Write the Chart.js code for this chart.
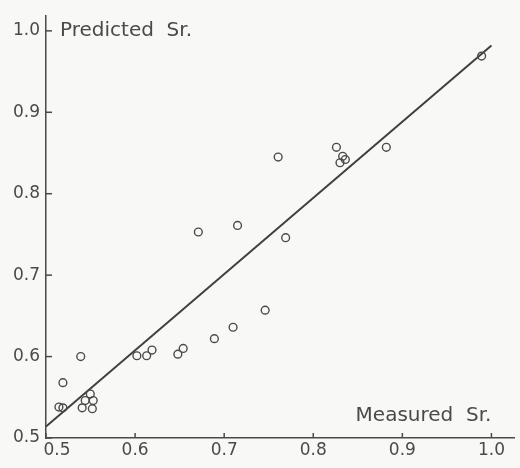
<!DOCTYPE html>
<html>
<head>
<meta charset="utf-8">
<script src="https://cdn.jsdelivr.net/npm/chart.js@4.4.0/dist/chart.umd.min.js"></script>
<style>
  html, body { margin: 0; padding: 0; background: #f8f8f6; }
  #wrap { width: 520px; height: 468px; position: relative; }
</style>
</head>
<body>
<div id="wrap"><canvas id="srChart"></canvas></div>
<script>
const measured  = [0.5145, 0.519, 0.519, 0.539, 0.5406, 0.544, 0.5497, 0.553, 0.552,
                   0.602, 0.613, 0.619, 0.648, 0.654, 0.689, 0.710, 0.746,
                   0.671, 0.715, 0.769, 0.7606, 0.826, 0.833, 0.830, 0.836, 0.882, 0.989];
const predicted = [0.538, 0.537, 0.568, 0.600, 0.537, 0.546, 0.554, 0.546, 0.536,
                   0.601, 0.601, 0.608, 0.603, 0.610, 0.622, 0.636, 0.657,
                   0.753, 0.761, 0.746, 0.845, 0.857, 0.846, 0.838, 0.842, 0.857, 0.969];

// Recta de regresión (extremos)
const fitX = [0.5, 1.0];
const fitY = [0.514, 0.982];

const tickValues = [0.5, 0.6, 0.7, 0.8, 0.9, 1.0];
const tickLabels = ['0.5', '0.6', '0.7', '0.8', '0.9', '1.0'];
const yLabel = 'Predicted  Sr.';
const xLabel = 'Measured  Sr.';

const ink = '#4a4a4a';
const fontFamily = '"DejaVu Sans", sans-serif';

// Marcas de eje hacia dentro, rótulos del eje x y títulos
const annotations = {
    id: 'annotations',
    afterDraw(chart) {
        const { ctx, chartArea, scales } = chart;
        const x = scales.x, y = scales.y;
        ctx.save();
        ctx.strokeStyle = ink;
        ctx.lineWidth = 1.5;
        tickValues.forEach(v => {
            const px = x.getPixelForValue(v);
            ctx.beginPath();
            ctx.moveTo(px, chartArea.bottom);
            ctx.lineTo(px, chartArea.bottom - 5);
            ctx.stroke();
            const py = y.getPixelForValue(v);
            ctx.beginPath();
            ctx.moveTo(chartArea.left, py);
            ctx.lineTo(chartArea.left + 6, py);
            ctx.stroke();
        });
        ctx.fillStyle = ink;
        ctx.font = '17px ' + fontFamily;
        ctx.textAlign = 'center';
        ctx.textBaseline = 'middle';
        tickValues.forEach((v, i) => {
            // el primer rótulo va desplazado para no chocar con el 0.5 del eje y
            const shift = i === 0 ? 11 : 0;
            ctx.fillText(tickLabels[i], x.getPixelForValue(v) + shift, chartArea.bottom + 13);
        });
        ctx.font = '20px ' + fontFamily;
        ctx.textAlign = 'left';
        ctx.fillText(yLabel, chartArea.left + 14, y.getPixelForValue(1.0));
        ctx.textAlign = 'right';
        ctx.fillText(xLabel, x.getPixelForValue(1.0), chartArea.bottom - 22);
        ctx.restore();
    }
};

const canvas = document.getElementById('srChart');
const ctx = canvas.getContext('2d');

new Chart(ctx, {
    type: 'scatter',
    data: {
        datasets: [
            {
                label: 'Sr',
                data: measured.map((m, i) => ({ x: m, y: predicted[i] })),
                pointStyle: 'circle',
                pointRadius: 3.9,
                pointBorderWidth: 1.4,
                pointBorderColor: ink,
                pointBackgroundColor: 'rgba(0,0,0,0)',
                showLine: false
            },
            {
                label: 'Fit',
                data: fitX.map((v, i) => ({ x: v, y: fitY[i] })),
                showLine: true,
                borderColor: '#3f3f3f',
                borderWidth: 2,
                pointRadius: 0,
                fill: false
            }
        ]
    },
    options: {
        responsive: true,
        maintainAspectRatio: false,
        animation: false,
        layout: { padding: { top: 7, right: 3, left: 0, bottom: 0 } },
        plugins: {
            legend: { display: false },
            tooltip: { enabled: false }
        },
        scales: {
            x: {
                type: 'linear',
                min: 0.5,
                max: 1.026,
                afterBuildTicks: (scale) => { scale.ticks = tickValues.map(v => ({ value: v })); },
                afterFit: (scale) => { scale.height = 30; },
                grid: { display: false, drawTicks: false },
                border: { display: true, color: ink, width: 1.5 },
                ticks: { display: false }
            },
            y: {
                type: 'linear',
                min: 0.5,
                max: 1.018,
                afterBuildTicks: (scale) => { scale.ticks = tickValues.map(v => ({ value: v })); },
                afterFit: (scale) => { scale.width = 46; },
                grid: { display: false, drawTicks: false },
                border: { display: true, color: ink, width: 1.5 },
                ticks: {
                    color: ink,
                    padding: 6,
                    font: { family: fontFamily, size: 17 },
                    callback: (v) => v.toFixed(1)
                }
            }
        }
    },
    plugins: [annotations]
});
</script>
</body>
</html>
